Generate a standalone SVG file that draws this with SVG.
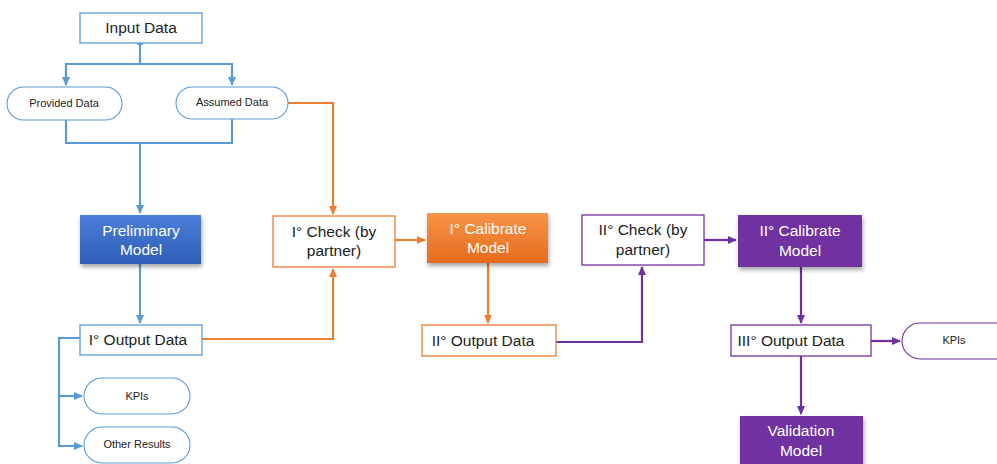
<svg xmlns="http://www.w3.org/2000/svg" width="997" height="464" viewBox="0 0 997 464">
<defs>
<linearGradient id="gBlue" x1="0" y1="0" x2="0" y2="1"><stop offset="0" stop-color="#4b7fda"/><stop offset="1" stop-color="#2e5db5"/></linearGradient>
<linearGradient id="gOrange" x1="0" y1="0" x2="0" y2="1"><stop offset="0" stop-color="#f7954a"/><stop offset="1" stop-color="#e56b1a"/></linearGradient>
<filter id="sh" x="-10%" y="-10%" width="125%" height="135%"><feDropShadow dx="1" dy="3" stdDeviation="2" flood-color="#000" flood-opacity="0.35"/></filter>
<marker id="aB" markerWidth="10" markerHeight="10" refX="8" refY="5" orient="auto" markerUnits="userSpaceOnUse"><path d="M0,1 L9,5 L0,9 Z" fill="#5b9bd5"/></marker>
<marker id="aO" markerWidth="10" markerHeight="10" refX="8" refY="5" orient="auto" markerUnits="userSpaceOnUse"><path d="M0,1 L9,5 L0,9 Z" fill="#ed7d31"/></marker>
<marker id="aP" markerWidth="10" markerHeight="10" refX="8" refY="5" orient="auto" markerUnits="userSpaceOnUse"><path d="M0,1 L9,5 L0,9 Z" fill="#7030a0"/></marker>
<style>
text{font-family:"Liberation Sans",Arial,sans-serif;text-anchor:middle;dominant-baseline:central;fill:#222}
.big{font-size:15.5px}
.sm{font-size:11px}
.wt{fill:#fff}
.bx{fill:#fff;stroke:#5b9bd5;stroke-width:1.3}
.ob{fill:#fff;stroke:#ed7d31;stroke-width:1.3}
.pb{fill:#fff;stroke:#7030a0;stroke-width:1.3}
.pill{fill:#fff;stroke:#5b9bd5;stroke-width:1.1}
.ppill{fill:#fff;stroke:#7030a0;stroke-width:1.1}
.lb{fill:none;stroke:#5b9bd5;stroke-width:2.2}
.lo{fill:none;stroke:#ed7d31;stroke-width:2.2}
.lp{fill:none;stroke:#7030a0;stroke-width:2.2}
</style>
</defs>
<g id="connectors">
<circle cx="140" cy="42" r="3.5" fill="#5b9bd5"/>
<path class="lb" d="M140,42 V64 H66 V85" marker-end="url(#aB)"/>
<path class="lb" d="M140,64 H232 V85" marker-end="url(#aB)"/>
<path class="lb" d="M66,120 V143 H232 V119"/>
<path class="lb" d="M140,143 V213" marker-end="url(#aB)"/>
<path class="lb" d="M140,264 V323" marker-end="url(#aB)"/>
<path class="lb" d="M80,338 H59 V446 H82" marker-end="url(#aB)"/>
<path class="lb" d="M59,396 H82" marker-end="url(#aB)"/>
<path class="lo" d="M288,103 H333 V214" marker-end="url(#aO)"/>
<path class="lo" d="M202,339 H333 V269" marker-end="url(#aO)"/>
<path class="lo" d="M395,240 H425" marker-end="url(#aO)"/>
<path class="lo" d="M488,263 V323" marker-end="url(#aO)"/>
<path class="lp" d="M556,342 H642 V267" marker-end="url(#aP)"/>
<path class="lp" d="M704,240 H736" marker-end="url(#aP)"/>
<path class="lp" d="M801,267 V323" marker-end="url(#aP)"/>
<path class="lp" d="M871,341 H900" marker-end="url(#aP)"/>
<path class="lp" d="M801,356 V414" marker-end="url(#aP)"/>
</g>
<g id="input-data"><rect class="bx" x="80" y="13" width="122" height="30"/><text class="big" x="141" y="27">Input Data</text></g>
<g id="provided-data"><rect class="pill" x="7" y="87" width="115" height="33" rx="16.5"/><text class="sm" x="64" y="103">Provided Data</text></g>
<g id="assumed-data"><rect class="pill" x="176" y="87" width="112" height="32" rx="16"/><text class="sm" x="232" y="102">Assumed Data</text></g>
<g id="preliminary-model"><rect x="80" y="215" width="121" height="49" fill="url(#gBlue)" filter="url(#sh)"/><text class="big wt" x="141" y="230">Preliminary</text><text class="big wt" x="141" y="249">Model</text></g>
<g id="check-1"><rect class="ob" x="273" y="216" width="122" height="51"/><text class="big" x="334" y="231">I° Check (by</text><text class="big" x="334" y="250">partner)</text></g>
<g id="calibrate-1"><rect x="427" y="213" width="121" height="50" fill="url(#gOrange)" filter="url(#sh)"/><text class="big wt" x="488" y="228">I° Calibrate</text><text class="big wt" x="488" y="247">Model</text></g>
<g id="output-1"><rect class="bx" x="80" y="325" width="122" height="30"/><text class="big" x="138" y="339">I° Output Data</text></g>
<g id="kpis-1"><rect class="pill" x="84" y="378" width="106" height="36" rx="18"/><text class="sm" x="137" y="396">KPIs</text></g>
<g id="other-results"><rect class="pill" x="84" y="427" width="106" height="36" rx="18"/><text class="sm" x="137" y="444">Other Results</text></g>
<g id="output-2"><rect class="ob" x="422" y="325" width="134" height="31"/><text class="big" x="483" y="340">II° Output Data</text></g>
<g id="check-2"><rect class="pb" x="582" y="215" width="122" height="50"/><text class="big" x="643" y="229">II° Check (by</text><text class="big" x="643" y="249">partner)</text></g>
<g id="calibrate-2"><rect x="738" y="215" width="124" height="52" fill="#7030a0" filter="url(#sh)"/><text class="big wt" x="800" y="230">II° Calibrate</text><text class="big wt" x="800" y="250">Model</text></g>
<g id="output-3"><rect class="pb" x="731" y="325" width="140" height="31"/><text class="big" x="791" y="340">III° Output Data</text></g>
<g id="kpis-3"><rect class="ppill" x="902" y="323" width="118" height="36" rx="18"/><text class="sm" x="954" y="340">KPIs</text></g>
<g id="validation-model"><rect x="740" y="416" width="123" height="60" fill="#7030a0" filter="url(#sh)"/><text class="big wt" x="801" y="430">Validation</text><text class="big wt" x="801" y="450">Model</text></g>
</svg>
